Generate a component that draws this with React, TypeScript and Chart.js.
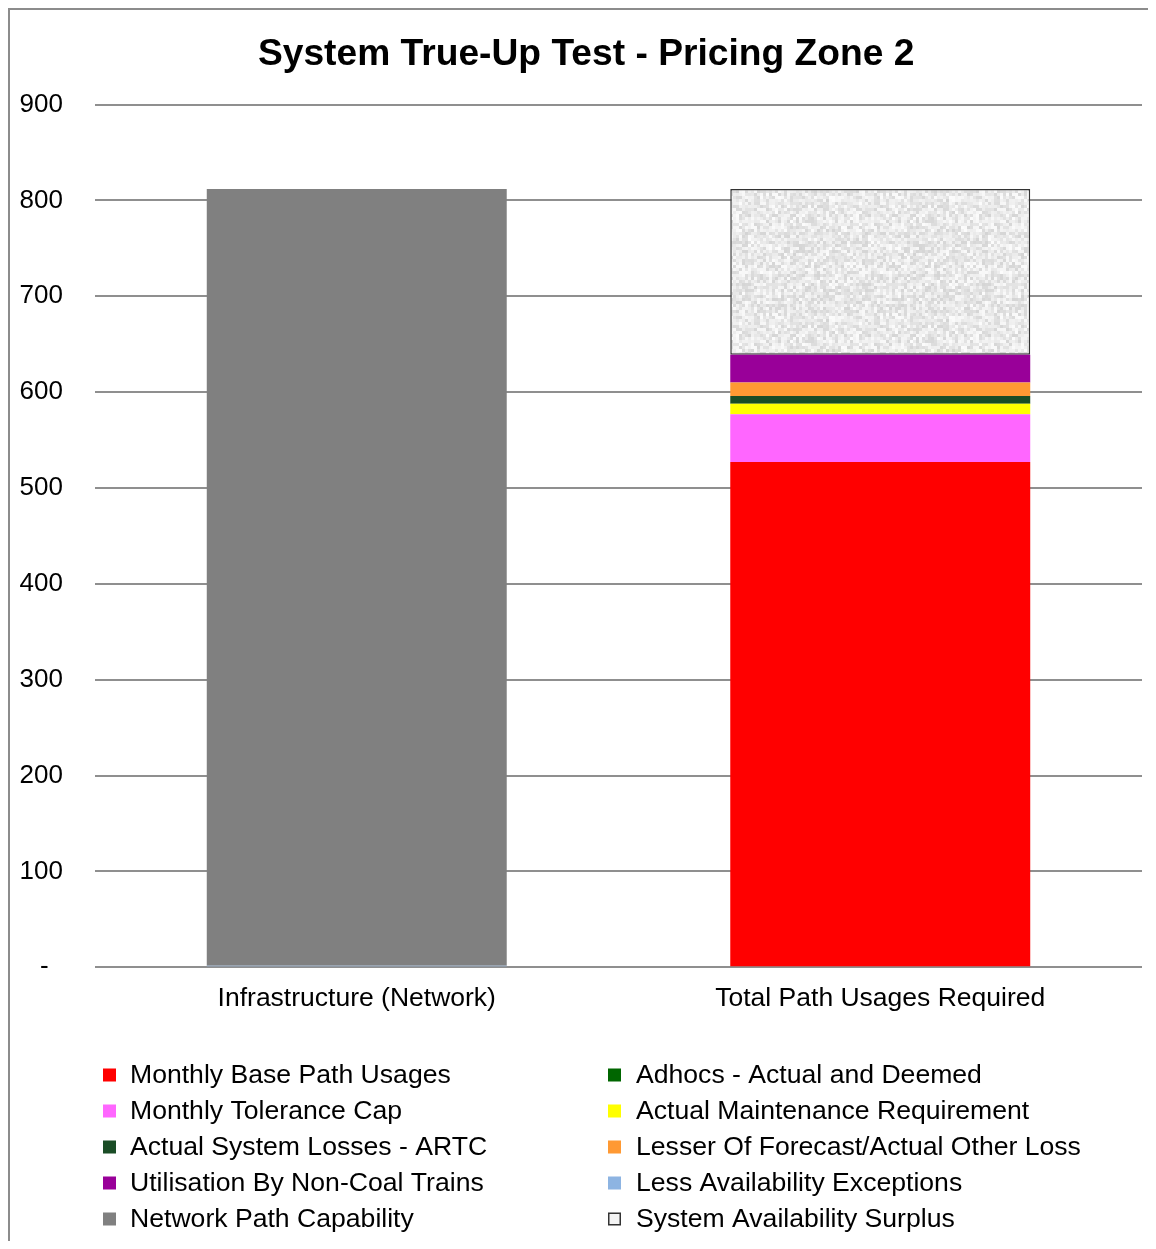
import React, { useEffect, useRef } from "react";
import { Chart, registerables } from "chart.js";

Chart.register(...registerables);

// ---------- data ----------
const categories = ["Infrastructure (Network)", "Total Path Usages Required"];
const seriesNames = [
  "Monthly Base Path Usages",
  "Adhocs - Actual and Deemed",
  "Monthly Tolerance Cap",
  "Actual Maintenance Requirement",
  "Actual System Losses - ARTC",
  "Lesser Of Forecast/Actual Other Loss",
  "Utilisation By Non-Coal Trains",
  "Less Availability Exceptions",
  "Network Path Capability",
  "System Availability Surplus",
];
const monthlyBase = [0, 527];
const adhocs = [0, 0];
const toleranceCap = [0, 50];
const maintenance = [0, 11];
const artcLosses = [0, 8];
const otherLoss = [0, 14];
const nonCoal = [0, 29];
const availabilityExceptions = [1.5, 0];
const networkCapability = [810.5, 0];
const surplus = [0, 173];
const yTickValues = [0, 100, 200, 300, 400, 500, 600, 700, 800, 900];

const seriesValues = [
  monthlyBase,
  adhocs,
  toleranceCap,
  maintenance,
  artcLosses,
  otherLoss,
  nonCoal,
  availabilityExceptions,
  networkCapability,
  surplus,
];
const seriesColors = [
  "#FF0000",
  "#006600",
  "#FF66FF",
  "#FFFF00",
  "#1A4D26",
  "#FF9933",
  "#990099",
  "#8DB4E2",
  "#808080",
  "#E6E6E6",
];

const FONT = "'Liberation Sans', Arial, Helvetica, sans-serif";

function makeTexture(): CanvasPattern | string {
  const size = 120;
  const c = document.createElement("canvas");
  c.width = size;
  c.height = size;
  const g = c.getContext("2d");
  if (!g) return "#e6e6e6";
  g.fillStyle = "#ededed";
  g.fillRect(0, 0, size, size);
  let s = 98765;
  const next = () => {
    s = (s * 1103515245 + 12345) & 0x7fffffff;
    return s / 0x7fffffff;
  };
  for (let y = 0; y < size; y += 3) {
    for (let x = 0; x < size; x += 3) {
      const r = next();
      const v = Math.round(212 + r * 40);
      g.fillStyle = `rgb(${v},${v},${v})`;
      g.fillRect(x, y, 3, 3);
    }
  }
  const pat = g.createPattern(c, "repeat");
  return pat || "#e6e6e6";
}

const legendPlugin = {
  id: "twoColLegend",
  afterDraw(chart: any) {
    const ctx = chart.ctx as CanvasRenderingContext2D;
    ctx.save();
    ctx.font = `26.6px ${FONT}`;
    ctx.textBaseline = "middle";
    ctx.textAlign = "left";
    chart.data.datasets.forEach((ds: any, i: number) => {
      const col = i % 2;
      const row = Math.floor(i / 2);
      const bx = col === 0 ? 93 : 598;
      const tx = col === 0 ? 120 : 626;
      const cy = 1065 + row * 36;
      if (i === seriesNames.length - 1) {
        ctx.fillStyle = "#f4f4f4";
        ctx.fillRect(bx, cy - 6.5, 13, 13);
        ctx.strokeStyle = "#333333";
        ctx.lineWidth = 1.5;
        ctx.strokeRect(bx + 0.75, cy - 5.75, 11.5, 11.5);
      } else {
        ctx.fillStyle = ds.backgroundColor;
        ctx.fillRect(bx, cy - 6.5, 13, 13);
      }
      ctx.fillStyle = "#000000";
      ctx.fillText(ds.label, tx, cy + 1);
    });
    ctx.restore();
  },
};

export default function App() {
  const canvasRef = useRef<HTMLCanvasElement | null>(null);

  useEffect(() => {
    document.documentElement.style.overflow = "hidden";
    const canvas = canvasRef.current;
    if (!canvas) return;
    const texture = makeTexture();
    const datasets = seriesNames.map((name, i) => {
      const isSurplus = i === seriesNames.length - 1;
      return {
        label: name,
        data: seriesValues[i],
        backgroundColor: isSurplus ? (texture as any) : seriesColors[i],
        borderColor: isSurplus ? "#333333" : seriesColors[i],
        borderWidth: isSurplus ? 1.5 : 0,
        borderSkipped: false as any,
        barPercentage: 1,
        categoryPercentage: 0.573,
      };
    });

    const chart = new Chart(canvas, {
      type: "bar",
      data: { labels: categories, datasets },
      plugins: [legendPlugin],
      options: {
        responsive: false,
        animation: false,
        maintainAspectRatio: false,
        layout: { padding: { left: 10, right: 14, top: 0, bottom: 218 } },
        plugins: {
          legend: { display: false },
          tooltip: { enabled: false },
          title: {
            display: true,
            text: " System True-Up Test - Pricing Zone 2",
            color: "#000000",
            font: { family: FONT, size: 37.2, weight: "bold", lineHeight: 1.2 },
            padding: { top: 22, bottom: 28 },
          },
        },
        scales: {
          x: {
            stacked: true,
            grid: { display: false },
            border: { display: false },
            afterFit: (axis: any) => {
              axis.paddingLeft = 0;
              axis.paddingRight = 0;
            },
            ticks: {
              color: "#000000",
              font: { family: FONT, size: 26.5 },
              padding: 8,
            },
          },
          y: {
            stacked: true,
            min: 0,
            max: 900,
            afterBuildTicks: (axis: any) => {
              axis.ticks = yTickValues.map((v) => ({ value: v }));
            },
            afterFit: (axis: any) => {
              axis.width = 75;
            },
            grid: {
              color: "#8f8f8f",
              lineWidth: 2,
              drawTicks: false,
            },
            border: { display: false },
            ticks: {
              color: "#000000",
              font: { family: FONT, size: 26 },
              padding: 32,
              crossAlign: "near",
              callback: (v: any) => (Number(v) === 0 ? "-  " : String(v)),
            },
          },
        },
      },
    });
    return () => chart.destroy();
  }, []);

  return (
    <div
      style={{
        position: "relative",
        width: 1148,
        height: 1233,
        borderLeft: "2px solid #8c8c8c",
        borderTop: "2px solid #8c8c8c",
        boxSizing: "border-box",
        background: "#ffffff",
      }}
    >
      <canvas
        ref={canvasRef}
        width={1146}
        height={1231}
        style={{ position: "absolute", left: 0, top: 0, width: 1146, height: 1231 }}
      />
    </div>
  );
}
